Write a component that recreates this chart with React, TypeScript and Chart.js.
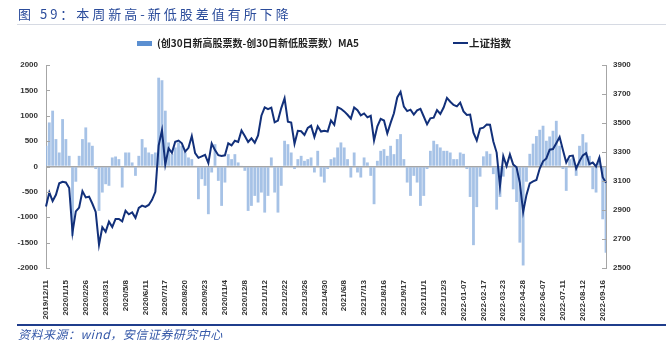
import React, { useEffect, useRef } from "react";
import { Chart, registerables } from "chart.js";
Chart.register(...registerables);

const tickLabels = [
  "2019/12/11", "2020/1/15", "2020/2/26", "2020/3/31", "2020/5/8", "2020/6/11", "2020/7/17",
  "2020/8/20", "2020/9/23", "2020/11/4", "2020/12/8", "2021/1/12", "2021/2/22", "2021/3/26",
  "2021/4/30", "2021/6/8", "2021/7/13", "2021/8/16", "2021/9/17", "2021/11/1", "2021/12/3",
  "2022-01-07", "2022-02-17", "2022-03-23", "2022-04-28", "2022-06-07", "2022-07-11",
  "2022-08-12", "2022-09-16",
];

// (创30日新高股票数-创30日新低股票数) MA5, sampled every 4 trading days
const netHighLow = [
  408, 868, 1100, 540, 276, 934, 540, 210, -1368, -300,
  210, 540, 770, 474, 408, -50, -875, -513, -349, -380,
  178, 197, 145, -414, 276, 276, 80, -184, 210, 540,
  375, 276, 243, 276, 1750, 1700, 1100, 474, 243, 375,
  474, 408, 276, 178, 145, 13, -645, -250, -380, -940,
  -118, 440, -283, -776, -316, 243, 145, 243, 80, 13,
  -85, -875, -776, -579, -710, -513, -908, -579, 178, -513,
  -908, -380, 507, 440, 276, -50, 145, 210, 112, 145,
  178, -118, 309, -200, -316, -50, 145, 178, 375, 474,
  375, 145, -217, 276, -118, -217, 178, 80, -184, -743,
  112, 309, 342, 210, 408, 243, 540, 638, 145, -316,
  -579, -184, -316, -776, -579, -50, 309, 507, 440, 375,
  309, 309, 276, 145, 145, 276, 250, -50, -600, -1550,
  -800, -200, 200, 300, 250, -150, -850, -600, -200, 50,
  20, -450, -700, -1500, -1950, -300, 250, 450, 600, 724,
  803, 507, 592, 704, 900, 408, -50, -480, 145, 178,
  -184, 408, 638, 474, 210, -447, -513, 178, -1040, -1700,
];

// 上证指数, same dates
const shIndex = [
  2924, 3022, 2962, 3005, 3084, 3095, 3090, 3052, 2746, 2890,
  2917, 3030, 2987, 2992, 2943, 2887, 2660, 2781, 2750, 2820,
  2783, 2838, 2838, 2822, 2895, 2870, 2883, 2846, 2915, 2930,
  2921, 2935, 2970, 3025, 3345, 3450, 3214, 3325, 3294, 3371,
  3379, 3360, 3303, 3329, 3410, 3292, 3260, 3270, 3280, 3224,
  3359, 3313, 3278, 3273, 3277, 3360, 3346, 3378, 3370, 3449,
  3410, 3369, 3394, 3364, 3414, 3550, 3608, 3596, 3606, 3505,
  3517, 3603, 3670, 3509, 3503, 3357, 3446, 3443, 3418, 3466,
  3482, 3403, 3477, 3441, 3447, 3441, 3518, 3487, 3609, 3598,
  3580, 3557, 3530, 3607, 3588, 3553, 3566, 3539, 3550, 3380,
  3477, 3529, 3517, 3428, 3501, 3567, 3676, 3715, 3613, 3582,
  3592, 3558, 3587, 3597, 3545, 3491, 3532, 3537, 3589, 3562,
  3607, 3673, 3647, 3625, 3615, 3640, 3580, 3555, 3558, 3433,
  3380, 3462, 3468, 3489, 3488, 3372, 3296, 3064, 3271, 3203,
  3283, 3213, 3195, 3087, 2886, 3004, 3084, 3097, 3107, 3186,
  3236, 3256, 3316, 3320, 3361, 3404, 3313, 3228, 3272, 3275,
  3186, 3236, 3277, 3292, 3216, 3227, 3200, 3262, 3126, 3088,
];

const POINTS_PER_LABEL = 6;
const categories = netHighLow.map((_, i) =>
  i % POINTS_PER_LABEL === 0 ? tickLabels[i / POINTS_PER_LABEL] ?? "" : ""
);

const tickFont = { family: "'Liberation Sans', Arial, sans-serif", size: 8, weight: "bold" as const };

const innerTicks = {
  id: "innerTicks",
  afterDatasetsDraw(chart: any) {
    const ctx = chart.ctx;
    ctx.save();
    ctx.strokeStyle = "#a6a6a6";
    ctx.lineWidth = 1;
    for (const id of ["y", "y1"]) {
      const s = chart.scales[id];
      s.ticks.forEach((t: any) => {
        const y = Math.round(s.getPixelForValue(t.value)) + 0.5;
        const x = id === "y" ? s.right : s.left;
        ctx.beginPath();
        ctx.moveTo(x, y);
        ctx.lineTo(id === "y" ? x + 4 : x - 4, y);
        ctx.stroke();
      });
    }
    ctx.restore();
  },
};

export default function App() {
  const ref = useRef<HTMLCanvasElement | null>(null);
  useEffect(() => {
    document.body.style.margin = "0";
    const chart = new Chart(ref.current as HTMLCanvasElement, {
      type: "bar",
      data: {
        labels: categories,
        datasets: [
          {
            type: "line",
            label: "上证指数",
            data: shIndex,
            yAxisID: "y1",
            borderColor: "#12307a",
            borderWidth: 2,
            pointRadius: 0,
            tension: 0,
            order: 0,
          } as any,
          {
            type: "bar",
            label: "(创30日新高股票数-创30日新低股票数）MA5",
            data: netHighLow,
            yAxisID: "y",
            backgroundColor: "rgba(150,183,226,0.85)",
            barPercentage: 0.85,
            categoryPercentage: 1,
            order: 1,
          },
        ],
      },
      options: {
        responsive: false,
        animation: false,
        layout: { padding: { top: 65, left: 0, right: 0, bottom: 0 } },
        plugins: { legend: { display: false }, tooltip: { enabled: false }, title: { display: false } },
        scales: {
          x: {
            offset: false,
            grid: { display: false },
            border: { display: false },
            ticks: {
              autoSkip: false,
              maxRotation: 90,
              minRotation: 90,
              padding: 4,
              color: "#333",
              font: tickFont,
            },
            afterFit: (s: any) => { s.height = 86; },
          },
          y: {
            position: "left",
            min: -2000,
            max: 2000,
            ticks: { stepSize: 500, padding: 8, color: "#333", font: tickFont, callback: (v: any) => String(v) },
            grid: {
              drawTicks: false,
              color: (c: any) => (c.tick && c.tick.value === 0 ? "#a6a6a6" : "rgba(0,0,0,0)"),
              lineWidth: 1.5,
            },
            border: { display: true, color: "#a6a6a6", width: 1 },
            afterFit: (s: any) => { s.width = 46; },
          },
          y1: {
            position: "right",
            min: 2500,
            max: 3900,
            ticks: { stepSize: 200, padding: 7, color: "#333", font: tickFont, callback: (v: any) => String(v) },
            grid: { drawOnChartArea: false, drawTicks: false },
            border: { display: true, color: "#a6a6a6", width: 1 },
            afterFit: (s: any) => { s.width = 60; },
          },
        },
      },
      plugins: [innerTicks],
    });
    return () => chart.destroy();
  }, []);

  const blue = "#2b4c9b";
  const cjk = "'Noto Sans CJK SC', 'Noto Sans', sans-serif";
  return (
    <div style={{ position: "relative", width: 666, height: 354, background: "#fff", overflow: "hidden" }}>
      <canvas ref={ref} width={666} height={354} style={{ position: "absolute", left: 0, top: 0, width: 666, height: 354 }} />
      <div style={{ position: "absolute", left: 18, top: 4, fontFamily: cjk, fontSize: 13, color: blue, letterSpacing: 3, whiteSpace: "nowrap", lineHeight: "20px" }}>
        图 59：本周新高-新低股差值有所下降
      </div>
      <div style={{ position: "absolute", left: 17, right: 0, top: 24, height: 1, background: "#d6dae3" }} />
      <div style={{ position: "absolute", left: 137, top: 41, width: 15, height: 5, background: "#5b8fd1" }} />
      <div style={{ position: "absolute", left: 157, top: 35, fontFamily: cjk, fontSize: 10, fontWeight: "bold", color: "#222", whiteSpace: "nowrap", lineHeight: "16px" }}>
        (创30日新高股票数-创30日新低股票数）MA5
      </div>
      <div style={{ position: "absolute", left: 453, top: 42, width: 15, height: 2, background: "#12307a" }} />
      <div style={{ position: "absolute", left: 469, top: 35, fontFamily: cjk, fontSize: 10.5, fontWeight: "bold", color: "#222", whiteSpace: "nowrap", lineHeight: "16px" }}>
        上证指数
      </div>
      <div style={{ position: "absolute", left: 17, right: 0, top: 324, height: 2, background: "#1f3d8c" }} />
      <div style={{ position: "absolute", left: 18, top: 326, fontFamily: cjk, fontSize: 12, fontStyle: "italic", color: "#3558a8", letterSpacing: 0.5, whiteSpace: "nowrap", lineHeight: "16px" }}>
        资料来源：wind，安信证券研究中心
      </div>
    </div>
  );
}
